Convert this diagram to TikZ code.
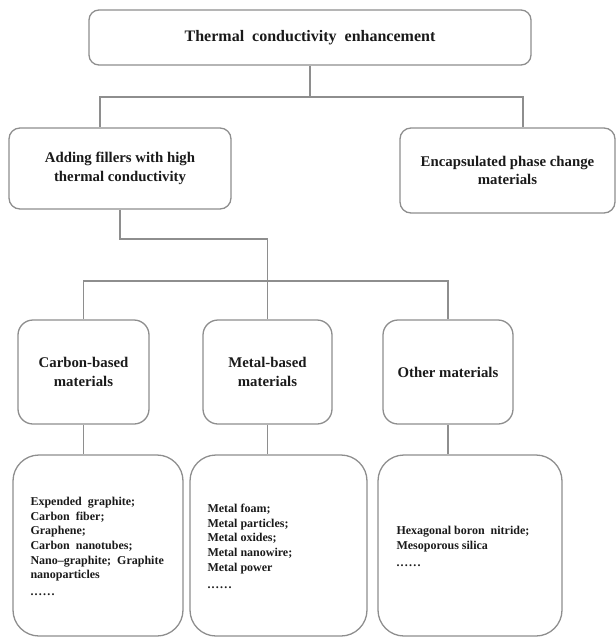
\documentclass[tikz,border=0pt]{standalone}
\usepackage{fontspec}
\setmainfont{Liberation Serif}
\definecolor{linegray}{HTML}{8E8E8E}
\definecolor{textdark}{HTML}{1A1A1A}
\newcommand{\moredots}{.\kern1.2pt.\kern1.2pt.\kern1.2pt.\kern1.2pt.\kern1.2pt.}

\begin{document}
\begin{tikzpicture}[x=1pt,y=-1pt,
  link/.style={draw=linegray,line width=1.4pt},
  box/.style={draw=linegray,line width=1.3pt,text=textdark,align=center,inner sep=0pt},
  topbox/.style={box,rounded corners=10pt,font=\fontsize{16}{19}\selectfont\bfseries},
  midbox/.style={box,rounded corners=11pt,font=\fontsize{14.8}{18.5}\selectfont\bfseries},
  classbox/.style={box,rounded corners=15pt,minimum height=104pt,font=\fontsize{14.8}{18.5}\selectfont\bfseries},
  listbox/.style={box,rounded corners=26pt,minimum height=181pt},
  listtext/.style={anchor=west,align=left,inner sep=0pt,text=textdark,font=\fontsize{12}{14.6}\selectfont\bfseries}]
  \useasboundingbox (0,0) rectangle (616,638);

  \node[topbox,minimum width=442pt,minimum height=55pt] (top) at (310,37.5) {Thermal\ \ conductivity\ \ enhancement};

  \node[midbox,minimum width=222pt,minimum height=81pt] (fill) at (120,168.5) {Adding fillers with high\\thermal conductivity};
  \node[midbox,minimum width=215pt,minimum height=85pt] (epcm) at (507.5,170.5) {Encapsulated phase change\\materials};

  \node[classbox,minimum width=131pt] (carbon) at (83.5,372) {Carbon-based\\materials};
  \node[classbox,minimum width=129pt] (metal) at (267.5,372) {Metal-based\\materials};
  \node[classbox,minimum width=130pt] (other) at (448,372) {Other materials};

  \node[listbox,minimum width=170pt] (carbonlist) at (98,545.5) {};
  \node[listbox,minimum width=177pt] (metallist) at (278.5,545.5) {};
  \node[listbox,minimum width=184pt] (otherlist) at (470,545.5) {};

  \node[listtext] (carbonitems) at ([xshift=18pt,yshift=-1pt]carbonlist.west) {Expended\ \ graphite;\\Carbon\ \ fiber;\\Graphene;\\Carbon\ \ nanotubes;\\Nano--graphite;\ \ Graphite\\nanoparticles\\[2pt]\moredots};
  \node[listtext] (metalitems) at ([xshift=18pt,yshift=-1pt]metallist.west) {Metal foam;\\Metal particles;\\Metal oxides;\\Metal nanowire;\\Metal power\\[3pt]\moredots};
  \node[listtext] (otheritems) at ([xshift=19pt,yshift=-1pt]otherlist.west) {Hexagonal boron\ \ nitride;\\Mesoporous silica\\[2pt]\moredots};

  \coordinate (split) at (310,97);
  \coordinate (elbow) at (267.5,239);
  \coordinate (branch) at (267.5,281);

  \draw[link] (top.south) -- (split);
  \draw[link] ([xshift=-20pt]fill.north) |- (split) -| ([xshift=15.5pt]epcm.north);
  \draw[link] (fill.south) |- (elbow) -- (metal.north);
  \draw[link] (carbon.north) |- (branch) -| (other.north);
  \draw[link] (carbon.south) -- (carbon.south |- carbonlist.north);
  \draw[link] (metal.south) -- (metal.south |- metallist.north);
  \draw[link] (other.south) -- (other.south |- otherlist.north);
\end{tikzpicture}
\end{document}
